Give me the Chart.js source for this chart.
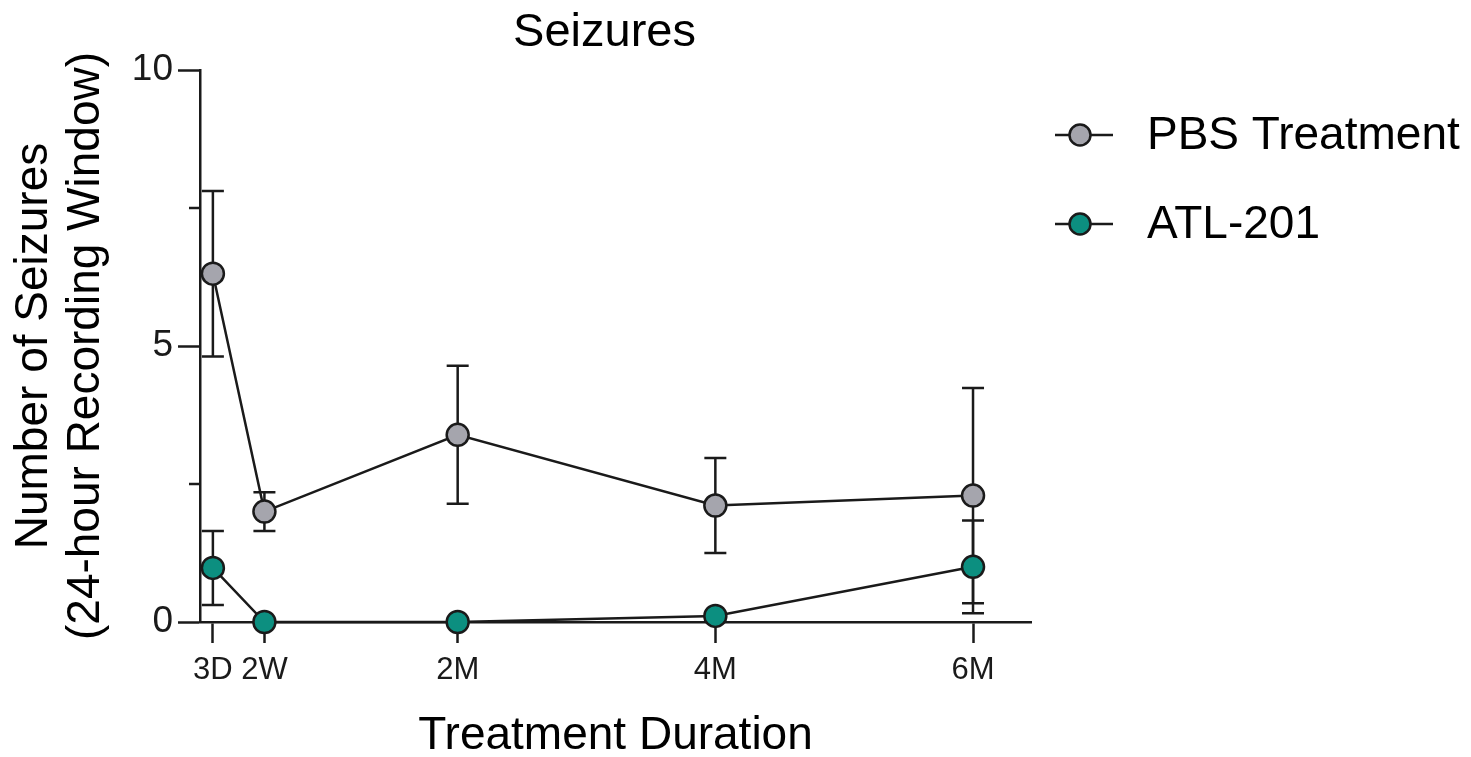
<!DOCTYPE html>
<html>
<head>
<meta charset="utf-8">
<script src="https://cdn.jsdelivr.net/npm/chart.js@4.4.1/dist/chart.umd.min.js"></script>
<style>
    html, body { margin: 0; padding: 0; background: #fff; }
    #wrap { width: 1471px; height: 757px; }
</style>
</head>
<body>
<div id="wrap"><canvas id="seizureChart" width="1471" height="757"></canvas></div>
<script>
// time points, in months
const xLabels = ['3D', '2W', '2M', '4M', '6M'];
const xMonths = [0.1, 0.5, 2, 4, 6];

const pbsMean = [6.31, 2.0, 3.39, 2.11, 2.29];
const pbsErr = [1.5, 0.35, 1.25, 0.86, 1.95];

const atlMean = [0.98, 0, 0, 0.11, 1.0];
const atlErr = [0.67, 0, 0, 0, 0.84];

const FONT = "'Liberation Sans', Arial, sans-serif";
const INK = '#1a1a1a';

const errs = [pbsErr, atlErr];

const errorBars = {
    id: 'errorBars',
    beforeDatasetsDraw(chart) {
        const { ctx, scales: { x, y } } = chart;
        ctx.save();
        ctx.strokeStyle = INK;
        ctx.lineWidth = 2.5;
        chart.data.datasets.forEach((ds, di) => {
            ds.data.forEach((p, i) => {
                const e = errs[di][i];
                if (!e) return;
                const px = x.getPixelForValue(p.x);
                const top = y.getPixelForValue(p.y + e);
                const bot = y.getPixelForValue(p.y - e);
                ctx.beginPath();
                ctx.moveTo(px, top); ctx.lineTo(px, bot);
                ctx.moveTo(px - 11, top); ctx.lineTo(px + 11, top);
                ctx.moveTo(px - 11, bot); ctx.lineTo(px + 11, bot);
                ctx.stroke();
            });
        });
        ctx.restore();
    },
};

// minor y ticks, title and legend
const extras = {
    id: 'extras',
    afterDraw(chart) {
        const { ctx, chartArea, scales: { y } } = chart;
        ctx.save();
        ctx.strokeStyle = INK;
        ctx.lineWidth = 2.5;
        [2.5, 7.5].forEach(v => {
            const py = y.getPixelForValue(v);
            ctx.beginPath();
            ctx.moveTo(chartArea.left - 11, py);
            ctx.lineTo(chartArea.left, py);
            ctx.stroke();
        });

        ctx.fillStyle = '#000';
        ctx.font = '47px ' + FONT;
        ctx.textAlign = 'center';
        ctx.textBaseline = 'alphabetic';
        ctx.fillText('Seizures', (chartArea.left + chartArea.right) / 2 - 11, 46);

        ctx.font = '46px ' + FONT;
        const lx = chartArea.right + 49;
        chart.data.datasets.forEach((ds, i) => {
            const ly = 135 + i * 89;
            ctx.strokeStyle = INK;
            ctx.lineWidth = 2.5;
            ctx.beginPath();
            ctx.moveTo(lx - 25, ly);
            ctx.lineTo(lx + 33, ly);
            ctx.stroke();
            ctx.beginPath();
            ctx.arc(lx, ly, 10.5, 0, Math.PI * 2);
            ctx.fillStyle = ds.pointBackgroundColor;
            ctx.fill();
            ctx.stroke();
            ctx.fillStyle = '#000';
            ctx.textAlign = 'left';
            ctx.textBaseline = 'middle';
            ctx.fillText(ds.label, lx + 67, ly + 1);
        });
        ctx.restore();
    },
};

const toPoints = vals => xMonths.map((m, i) => ({ x: m, y: vals[i] }));

new Chart(document.getElementById('seizureChart'), {
    type: 'line',
    data: {
        datasets: [
            {
                label: 'PBS Treatment',
                data: toPoints(pbsMean),
                borderColor: INK,
                borderWidth: 2.5,
                pointBackgroundColor: '#a5a5ad',
                pointBorderColor: INK,
                pointBorderWidth: 2.5,
                pointRadius: 11,
                tension: 0,
                clip: false,
            },
            {
                label: 'ATL-201',
                data: toPoints(atlMean),
                borderColor: INK,
                borderWidth: 2.5,
                pointBackgroundColor: '#0c8f80',
                pointBorderColor: INK,
                pointBorderWidth: 2.5,
                pointRadius: 11,
                tension: 0,
                clip: false,
            },
        ],
    },
    options: {
        responsive: false,
        devicePixelRatio: 1,
        animation: false,
        layout: { padding: { left: 0, right: 440, top: 70, bottom: 0 } },
        plugins: {
            legend: { display: false },
            tooltip: { enabled: false },
            title: { display: false },
        },
        scales: {
            x: {
                type: 'linear',
                min: 0,
                max: 6.45,
                afterBuildTicks: s => { s.ticks = xMonths.map(v => ({ value: v })); },
                afterFit: s => { s.height = 135; },
                ticks: {
                    callback: (v, i) => xLabels[i],
                    autoSkip: false,
                    maxRotation: 0,
                    padding: 9,
                    color: INK,
                    font: { family: FONT, size: 31 },
                },
                grid: {
                    drawOnChartArea: false,
                    tickLength: 21,
                    tickWidth: 2.5,
                    tickColor: INK,
                },
                border: { display: true, color: INK, width: 2.5 },
                title: {
                    display: true,
                    text: 'Treatment Duration',
                    color: '#000',
                    padding: 0,
                    font: { family: FONT, size: 46, lineHeight: 0.913 },
                },
            },
            y: {
                min: 0,
                max: 10,
                afterFit: s => { s.width = 200; },
                ticks: {
                    stepSize: 5,
                    padding: 5,
                    color: INK,
                    font: { family: FONT, size: 37 },
                },
                grid: {
                    drawOnChartArea: false,
                    tickLength: 22,
                    tickWidth: 2.5,
                    tickColor: INK,
                },
                border: { display: true, color: INK, width: 2.5 },
                title: {
                    display: true,
                    text: ['Number of Seizures', '(24-hour Recording Window)'],
                    color: '#000',
                    padding: { top: 8, bottom: 0 },
                    font: { family: FONT, size: 46, lineHeight: 1.13 },
                },
            },
        },
    },
    plugins: [errorBars, extras],
});
</script>
</body>
</html>
